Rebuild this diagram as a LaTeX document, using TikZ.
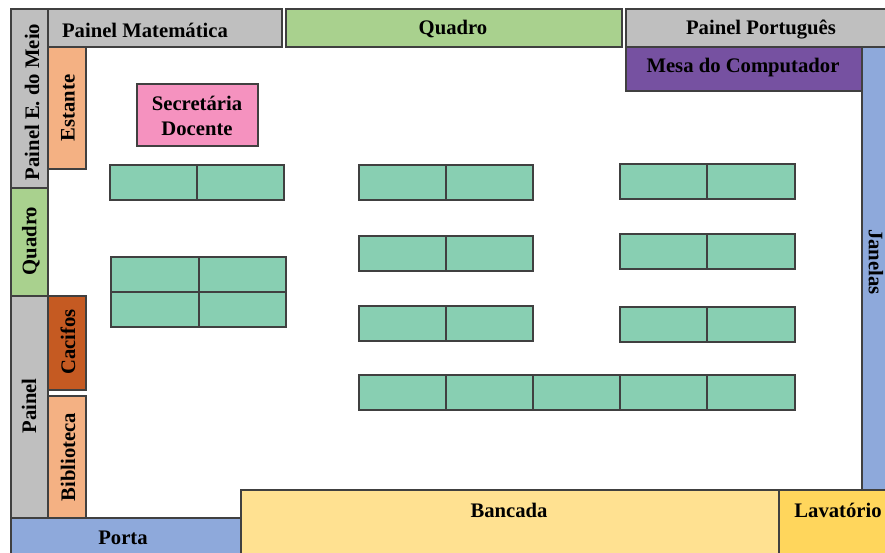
\documentclass[tikz,border=0pt]{standalone}
\usepackage{fontspec}
\setmainfont{Liberation Serif}
\definecolor{cgrey}{HTML}{BFBFBF}
\definecolor{cgreen}{HTML}{A9D18E}
\definecolor{corange}{HTML}{F4B183}
\definecolor{cpink}{HTML}{F592BF}
\definecolor{cteal}{HTML}{88CFB2}
\definecolor{cpurple}{HTML}{7651A1}
\definecolor{cblue}{HTML}{8EA9DB}
\definecolor{cbrown}{HTML}{C55A22}
\definecolor{cyellow}{HTML}{FFE191}
\definecolor{cgold}{HTML}{FFD65C}
\definecolor{cline}{HTML}{404040}
\tikzset{
  box/.style={draw=cline,line width=0.85pt},
  lbl/.style={font=\bfseries\fontsize{15.5}{18.75}\selectfont,text=black,inner sep=0pt,align=center},
  desk/.style={box,fill=cteal}
}
\newcommand{\deskrow}[3]{% y0,y1,list of x pairs
  \foreach \xa/\xb in {#3}{\draw[desk] (\xa,#1) rectangle (\xb,#2);}}
\begin{document}
\begin{tikzpicture}[x=0.75pt,y=-0.75pt]
\useasboundingbox (0,0) rectangle (885,553);
\clip (0,0) rectangle (885,553);
\fill[white] (0,0) rectangle (885,553);
% panels
\draw[box,fill=cgrey] (11,9) rectangle (48,188);
\draw[box,fill=cgrey] (48,9) rectangle (282,47);
\draw[box,fill=cgreen] (286,9) rectangle (622,47);
\draw[box,fill=cgrey] (626,9) rectangle (895,47);
\draw[box,fill=cblue] (862,47) rectangle (895,490);
\draw[box,fill=cpurple] (626,47) rectangle (862,91);
\draw[box,fill=corange] (48,47) rectangle (86,169);
\draw[box,fill=cpink] (137,84) rectangle (258,146);
\draw[box,fill=cgreen] (11,188) rectangle (48,296);
\draw[box,fill=cgrey] (11,296) rectangle (48,518);
\draw[box,fill=cbrown] (48,296) rectangle (86,390);
\draw[box,fill=corange] (48,396) rectangle (86,518);
\draw[box,fill=cblue] (11,518) rectangle (241,563);
\draw[box,fill=cyellow] (241,490) rectangle (779,563);
\draw[box,fill=cgold] (779,490) rectangle (895,563);
% desks
\deskrow{165}{200}{110/197,197/284}
\deskrow{257}{292}{111/199,199/286}
\deskrow{292}{327}{111/199,199/286}
\deskrow{165}{200}{359/446,446/533}
\deskrow{236}{271}{359/446,446/533}
\deskrow{306}{341}{359/446,446/533}
\deskrow{164}{199}{620/707,707/795}
\deskrow{234}{269}{620/707,707/795}
\deskrow{307}{342}{620/707,707/795}
\deskrow{375}{410}{359/446,446/533,533/620,620/707,707/795}
% labels
\node[lbl] (pmat) at (145,30) {Painel Matemática};
\node[lbl] (qtop) at (453,29) {Quadro};
\node[lbl] (ppor) at (761,29) {Painel Português};
\node[lbl] (mesa) at (743,68) {Mesa do Computador};
\node[lbl,rotate=90] (pmeio) at (32,102) {Painel E. do Meio};
\node[lbl,rotate=90] (est) at (68,108) {Estante};
\node[lbl] (sec) at (197,116) {Secretária\\Docente};
\node[lbl,rotate=90] (qleft) at (31,241) {Quadro};
\node[lbl,rotate=90] (pain) at (29,406) {Painel};
\node[lbl,rotate=90] (caf) at (68,342) {Cacifos};
\node[lbl,rotate=90] (bib) at (68,457) {Biblioteca};
\node[lbl,rotate=-90] (jan) at (876,262) {Janelas};
\node[lbl] (porta) at (123,538) {Porta};
\node[lbl] (banc) at (509,510) {Bancada};
\node[lbl] (lav) at (838,510) {Lavatório};
\end{tikzpicture}
\end{document}
